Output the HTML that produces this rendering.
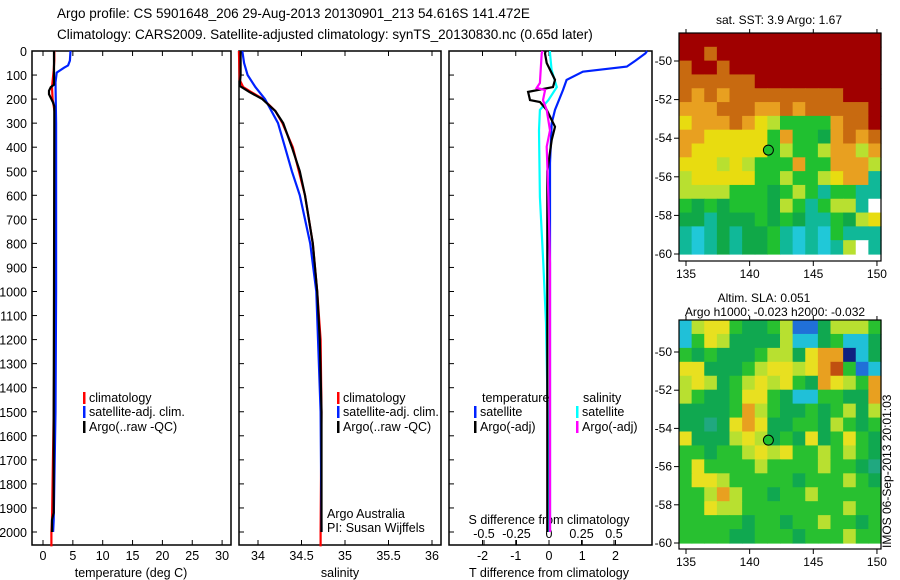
<!DOCTYPE html>
<html><head><meta charset="utf-8"><style>
body{margin:0;background:#fff;}
svg{display:block;font-family:"Liberation Sans",sans-serif;}
</style></head><body>
<svg id="fig" width="900" height="580" viewBox="0 0 900 580">
<text x="57" y="18" font-size="13.5">Argo profile: CS 5901648_206 29-Aug-2013 20130901_213 54.616S 141.472E</text>
<text x="57" y="39" font-size="13.5">Climatology: CARS2009. Satellite-adjusted climatology: synTS_20130830.nc (0.65d later)</text>
<g id="g"></g>
</svg>
<script>
// ---- data ----
const depthTicks=[0,100,200,300,400,500,600,700,800,900,1000,1100,1200,1300,1400,1500,1600,1700,1800,1900,2000];
const tempTicks=[0,5,10,15,20,25,30];
const salTicks=[34,34.5,35,35.5,36];
const tdiffTicks=[-2,-1,0,1,2];
const sdiffTicks=[-0.5,-0.25,0,0.25,0.5];
const sdiffLabels=["-0.5","-0.25","0","0.25","0.5"];
const argoTdepth=[0,50,140,150,165,180,200,215,230,300,1000,1500,1920,1950,2000];
const argoTval=[1.85,1.85,1.85,1.3,1.0,1.0,1.4,1.7,1.9,1.9,1.85,1.8,1.8,1.5,1.5];
const climTdepth=[0,40,80,150,200,260,300,1000,1500,1950,2000,2060];
const climTval=[1.9,1.9,1.8,1.5,1.6,2.0,2.0,2.0,1.8,1.5,1.4,1.4];
const satTdepth=[0,40,60,70,90,110,130,300,600,1000,1500,1950,2000];
const satTval=[4.6,4.5,4.2,3.5,2.3,2.2,2.1,2.2,2.2,2.2,2.1,1.8,1.7];
const argoSdepth=[0,100,145,170,200,250,300,400,500,600,800,1000,1200,1500,2000];
const argoSval=[33.8,33.8,33.79,33.9,34.05,34.2,34.29,34.39,34.48,34.54,34.63,34.68,34.71,34.73,34.73];
const climSdepth=[0,120,150,170,200,250,300,400,500,600,800,1000,1200,1500,2000,2060];
const climSval=[33.78,33.79,33.83,33.92,34.06,34.2,34.28,34.4,34.47,34.54,34.63,34.68,34.72,34.73,34.72,34.72];
const satSdepth=[0,50,100,150,200,300,400,500,600,800,1000,1500,2000];
const satSval=[33.82,33.84,33.88,33.97,34.08,34.23,34.31,34.39,34.48,34.6,34.67,34.72,34.73];
const satTdDepth=[0,10,40,65,86,120,162,245,300,466,1000,2000];
const satTdVal=[2.95,2.9,2.6,2.34,1.02,0.53,0.42,0.18,0.08,0.03,0.03,0.03];
const argoTdDepth=[0,10,50,120,150,170,204,212,245,315,370,500,2000];
const argoTdVal=[-0.1,-0.12,-0.07,0.18,0.12,-0.63,-0.57,-0.27,-0.07,0.18,0.08,-0.05,-0.05];
const argoSdDepth=[0,10,133,154,162,204,245,330,398,607,883,2000];
const argoSdVal=[-0.05,-0.056,-0.07,-0.095,-0.03,-0.046,-0.018,0.008,-0.018,-0.005,0.008,0.008];
const satSdDepth=[0,10,79,150,204,245,330,607,883,1130,1500,2000];
const satSdVal=[0.008,0.008,0.02,0.06,-0.005,-0.07,-0.077,-0.07,-0.044,-0.023,-0.01,-0.004];
const latTicks=[-50,-52,-54,-56,-58,-60];
const lonTicks=[135,140,145,150];
const argoLon=141.472, argoLat=-54.616;
const sstGrid=["RRRRRRRRRRRRRRRR","RRoRRRRRRRRRRRRR","oRRoRRRRRRRRRRRR","ooooooRRRRRRRRRR","oOoOoooooooooRRR","OOOoooOOoOoooooR","YOOOoOYyGGGGOooR","OOYYYYYGOGGgOoOo","OYYYYYYGyGGyOOyO","YYYyYyGGGOGGOOOy","yYYYYYGGyGGyYOOc","yyyyGGGgGyGcGGcc","GgGgGGGgyGcGyycW","ggcgggGgGgccGgyY","cCcgcggGcCcCGccc","cCcgcggGcCcCcyWc"];
const slaGrid=["CyYYGggGyBBgyyyG","CGYyggggyCCgGCCg","GgGgggGyygYOONCg","YYgggGyYYyYOoGBC","yYygGyYyYGgOYyGO","yGggGYYGgCCGGggO","ggggGOyGggGgGygy","ggtgYOYggGGgyGgG","YgggyYygGgYgGYGg","GGgGGyYyYGGyGyGg","GYGGGGyGGGGyGGgt","GYYyGGGGGgGGGyGg","GGyOyGGgGGyGGGGG","GGYyyGGGGGGGGyGG","GGGGGgGGgGGyGGgG","GGGGggGGGgGGGyGG"];
// ---- drawing ----
const NS="http://www.w3.org/2000/svg";const G=document.getElementById('g');
function mk(t,a,p){const e=document.createElementNS(NS,t);for(const k in a)e.setAttribute(k,a[k]);(p||G).appendChild(e);return e;}
const Y0=51,Y1=545;const yD=d=>Y0+d*0.2405;
const panels=[{x0:32,x1:231,name:'temperature'},{x0:239,x1:441,name:'salinity'},{x0:449,x1:652,name:'difference'}];
const xT=v=>43+v*5.97, xS=v=>258+(v-34)*87, xTd=v=>549+v*33.25, xSd=v=>549+v*130;
panels.forEach(p=>{const r=mk('rect',{x:p.x0,y:Y0,width:p.x1-p.x0,height:Y1-Y0,fill:'none',stroke:'#000','stroke-width':1.5});


depthTicks.forEach(d=>{const l=mk('line',{x1:p.x0,x2:p.x0+5,y1:yD(d),y2:yD(d),stroke:'#000'});

});});
depthTicks.forEach(d=>{const t=mk('text',{x:27,y:yD(d)+5,'font-size':12.5,'text-anchor':'end'});t.textContent=d;

});
function xticks(vals,labels,f,yl,nm,top){vals.forEach((v,i)=>{const x=f(v);
const l=mk('line',{x1:x,x2:x,y1:Y1,y2:Y1-5,stroke:'#000'});


if(top){const l2=mk('line',{x1:x,x2:x,y1:Y0,y2:Y0+5,stroke:'#000'});

}
const t=mk('text',{x:x,y:yl,'font-size':12.5,'text-anchor':'middle'});t.textContent=labels[i];

});}
xticks(tempTicks,tempTicks,xT,560,'temperature',true);
xticks(salTicks,salTicks,xS,560,'salinity',true);
xticks(tdiffTicks,tdiffTicks,xTd,560,'t-difference',true);
xticks(sdiffTicks,sdiffLabels,xSd,538,'s-difference',false);
function lbl(x,y,s,nm,anchor,size){const t=mk('text',{x:x,y:y,'font-size':size||12.5,'text-anchor':anchor||'start'});t.textContent=s;

return t;}
lbl(131,577,'temperature (deg C)','temperature-axis-title','middle');
lbl(340,577,'salinity','salinity-axis-title','middle');
lbl(549,577,'T difference from climatology','t-difference-axis-title','middle');
lbl(549,524,'S difference from climatology','s-difference-axis-title','middle');
lbl(327,518,'Argo Australia','credit-line-1');
lbl(327,532,'PI: Susan Wijffels','credit-line-2');
function line(ds,vs,f,col,nm){const pts=ds.map((d,i)=>f(vs[i]).toFixed(1)+','+yD(d).toFixed(1)).join(' ');
const e=mk('polyline',{points:pts,fill:'none',stroke:col,'stroke-width':2.2});

}
line(climTdepth,climTval,xT,'#f00','temp-climatology-line');
line(satTdepth,satTval,xT,'#0022ff','temp-satellite-line');
line(argoTdepth,argoTval,xT,'#000','temp-argo-line');
line(climSdepth,climSval,xS,'#f00','sal-climatology-line');
line(satSdepth,satSval,xS,'#0022ff','sal-satellite-line');
line(argoSdepth,argoSval,xS,'#000','sal-argo-line');
line(satSdDepth,satSdVal,xSd,'#00ffff','sdiff-satellite-line');
line(satTdDepth,satTdVal,xTd,'#0022ff','tdiff-satellite-line');
line(argoTdDepth,argoTdVal,xTd,'#000','tdiff-argo-line');
line(argoSdDepth,argoSdVal,xSd,'#ff00ff','sdiff-argo-line');
function leg(x,y,col,s,nm){const r=mk('rect',{x:x,y:y-10,width:2.5,height:12,fill:col});

lbl(x+6,y,s,nm+'-label');}
leg(83,402,'#f00','climatology','legend-temp-climatology');
leg(83,416,'#0022ff','satellite-adj. clim.','legend-temp-satellite');
leg(83,431,'#000','Argo(..raw -QC)','legend-temp-argo');
leg(337,402,'#f00','climatology','legend-sal-climatology');
leg(337,416,'#0022ff','satellite-adj. clim.','legend-sal-satellite');
leg(337,431,'#000','Argo(..raw -QC)','legend-sal-argo');
lbl(482,402,'temperature','legend-diff-temperature-heading');
lbl(583,402,'salinity','legend-diff-salinity-heading');
leg(474,416,'#0022ff','satellite','legend-tdiff-satellite');
leg(474,431,'#000','Argo(-adj)','legend-tdiff-argo');
leg(576,416,'#00ffff','satellite','legend-sdiff-satellite');
leg(576,431,'#ff00ff','Argo(-adj)','legend-sdiff-argo');
// maps
const sstCol={R:'#a00000',o:'#c86a10',O:'#e8a020',Y:'#e8dc10',y:'#b8e030',G:'#20c030',g:'#10a848',c:'#10b898',C:'#20c8d8',W:'#ffffff'};
const slaCol={G:'#28c030',g:'#10a850',t:'#20a880',Y:'#e8e020',y:'#b8e030',O:'#e8a020',o:'#c05010',C:'#20c0d8',B:'#2070d8',N:'#102080'};
function map(top,bot,y50,y60,grid,cols,nm){const X0=679,X1=881;
const yL=v=>y50+(-50-v)*((y60-y50)/10), xL=v=>686+(v-135)*12.73;
const nr=grid.length,nc=grid[0].length,cw=(X1-X0)/nc,ch=(yL(-60)-top)/nr;
grid.forEach((row,r)=>{[...row].forEach((k,c)=>{const e=mk('rect',{x:X0+c*cw,y:top+r*ch,width:cw+0.6,height:ch+0.6,fill:cols[k]});

});});
const f=mk('rect',{x:X0,y:top,width:X1-X0,height:bot-top,fill:'none',stroke:'#000','stroke-width':1.2});


latTicks.forEach(v=>{const l=mk('line',{x1:X0-5,x2:X0,y1:yL(v),y2:yL(v),stroke:'#000'});


lbl(X0-7,yL(v)+4,v,nm+'-lat-label','end',12);});
lonTicks.forEach(v=>{const l=mk('line',{x1:xL(v),x2:xL(v),y1:bot,y2:bot+5,stroke:'#000'});


const l2=mk('line',{x1:xL(v),x2:xL(v),y1:top,y2:top-4,stroke:'#000'});


lbl(xL(v),bot+17,v,nm+'-lon-label','middle',12);});
const c=mk('circle',{cx:xL(argoLon),cy:yL(argoLat),r:5,fill:'#20c030',stroke:'#000'});

}
map(33,261,61,254,sstGrid,sstCol,'sst-map');
map(320,549,352,543,slaGrid,slaCol,'sla-map');
lbl(779,24,'sat. SST: 3.9 Argo: 1.67','sst-map-title','middle',12);
lbl(764,302,'Altim. SLA: 0.051','sla-map-title','middle',12);
lbl(775,316,'Argo h1000: -0.023 h2000: -0.032','sla-map-subtitle','middle',12);
const v=lbl(0,0,'IMOS 06-Sep-2013 20:01:03','timestamp-label','start',12);
v.setAttribute('transform','translate(891,548) rotate(-90)');
</script>
</body></html>
